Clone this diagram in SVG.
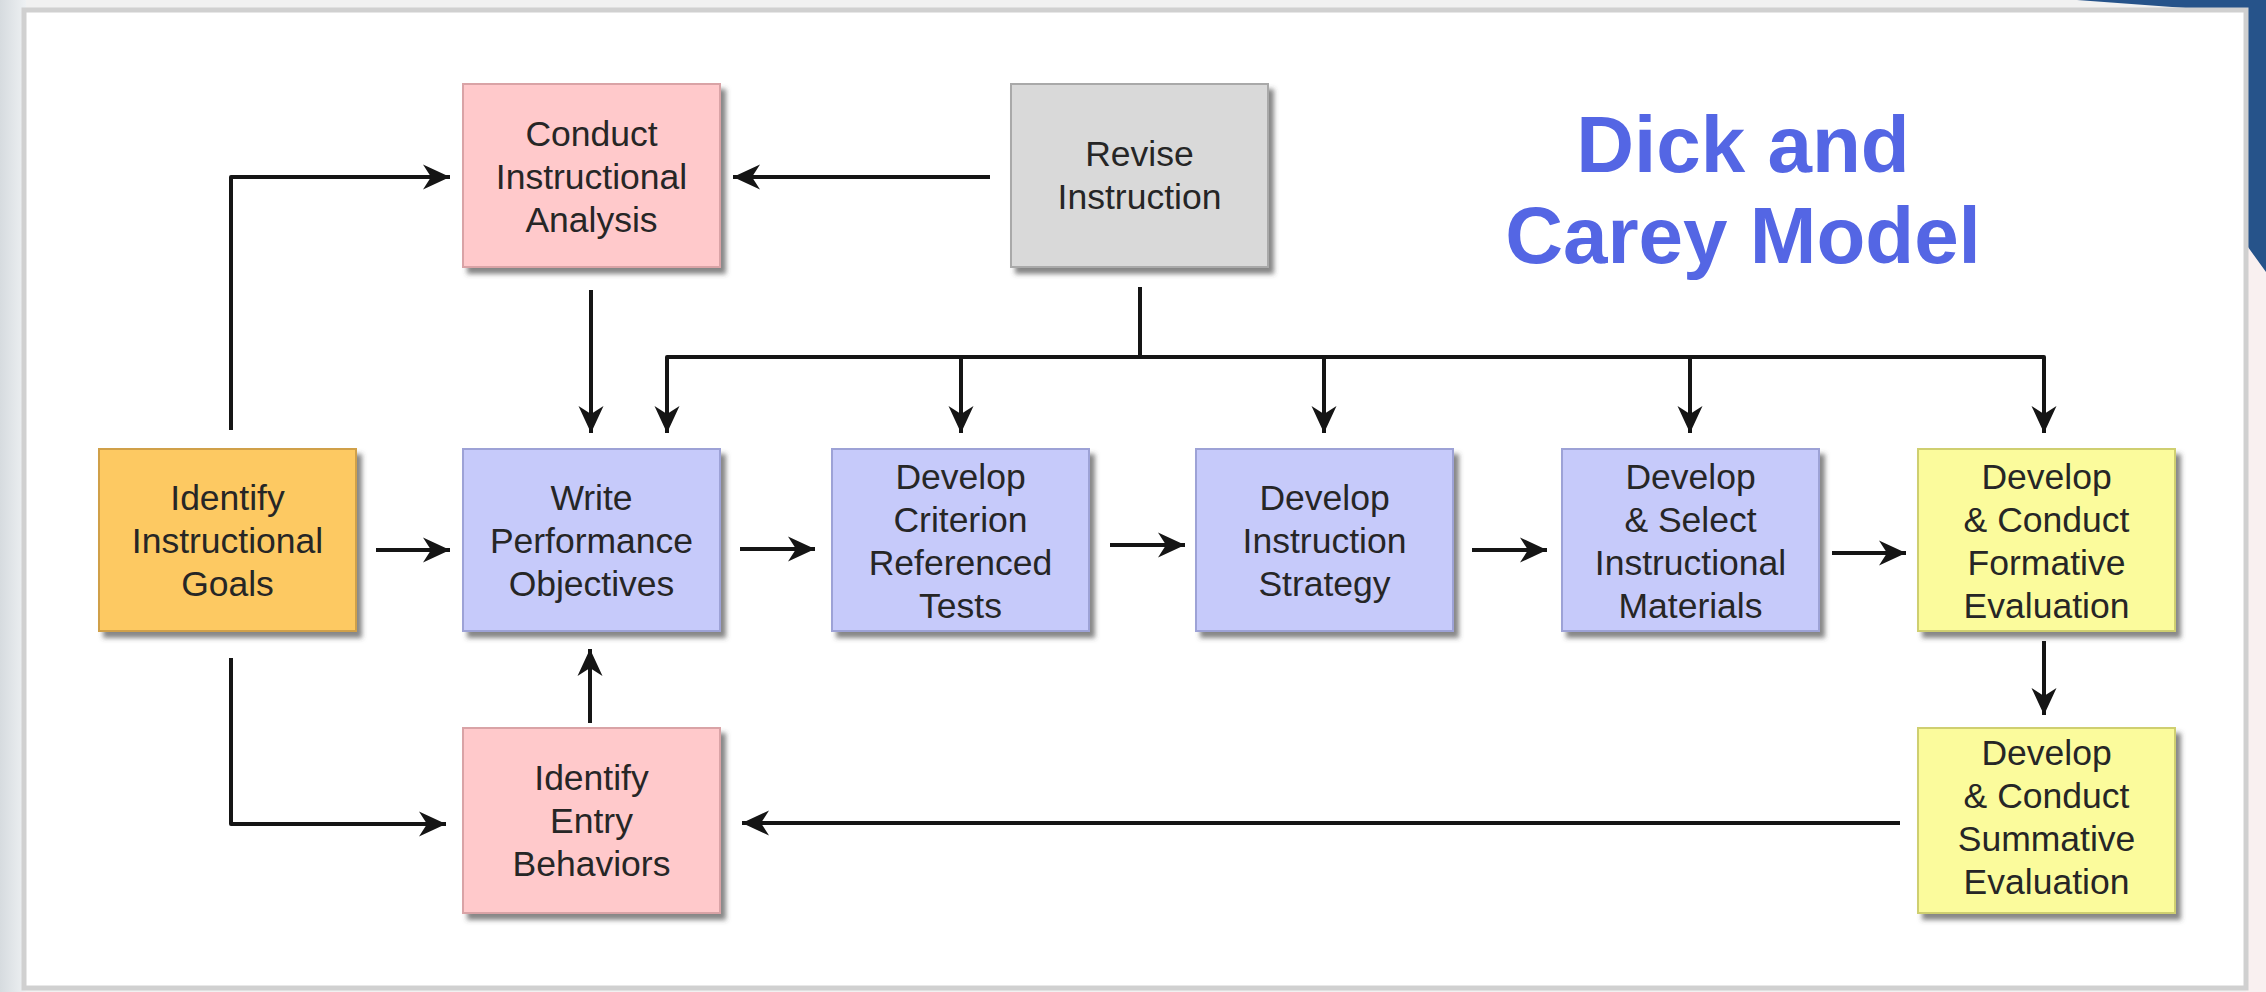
<svg xmlns="http://www.w3.org/2000/svg" width="2266" height="992" viewBox="0 0 2266 992">
<style>
.box{stroke-width:2;filter:url(#sh)}
.pink{fill:#FFC9CB;stroke:#D9A3A6}
.grey{fill:#D9D9D9;stroke:#A9A9A9}
.orange{fill:#FDC962;stroke:#D0A048}
.blue{fill:#C6CAFA;stroke:#9DA2D6}
.yellow{fill:#FBFB9C;stroke:#CFCF70}
.lbl{font-family:"Liberation Sans",Arial,sans-serif;font-size:35.5px;fill:#262626;text-anchor:middle}
.title{font-family:"Liberation Sans",Arial,sans-serif;font-size:80px;font-weight:bold;fill:#5466E4;text-anchor:middle}
.con{fill:none;stroke:#151515;stroke-width:4;stroke-linejoin:round}
.arr{marker-end:url(#ah)}
</style>
<defs>
<filter id="sh" x="-10%" y="-10%" width="125%" height="125%">
<feDropShadow dx="5" dy="6" stdDeviation="2.5" flood-color="#444" flood-opacity="0.65"/>
</filter>
<linearGradient id="lg" x1="0" y1="0" x2="1" y2="0">
<stop offset="0" stop-color="#D6DBDF"/>
<stop offset="1" stop-color="#EEF1F3"/>
</linearGradient>
<marker id="ah" markerUnits="userSpaceOnUse" markerWidth="28" markerHeight="26" viewBox="0 0 28 26" refX="27" refY="13" orient="auto">
<path d="M0,0.5 L27,13 L0,25.5 L8,13 z" fill="#151515"/>
</marker>
</defs>
<rect x="0" y="0" width="2266" height="992" fill="#F1F1F1"/>
<rect x="0" y="0" width="26" height="992" fill="url(#lg)"/>
<rect x="2246" y="0" width="20" height="992" fill="#F9F0F0"/>
<polygon points="2077,0 2266,0 2266,272 2240,236 2240,12" fill="#26538A"/>
<rect x="24" y="10" width="2222" height="978" fill="#FFFFFF" stroke="#D0D0D0" stroke-width="5"/>

<g id="title">
<text class="title" x="1743" y="172">Dick and</text>
<text class="title" x="1743" y="263">Carey Model</text>
</g>

<g id="connectors">
<path class="con arr" d="M231,430 V177 H450"/>
<path class="con arr" d="M231,658 V824 H446"/>
<path class="con arr" d="M376,550 H450"/>
<path class="con arr" d="M990,177 H733"/>
<path class="con arr" d="M591,290 V433"/>
<path class="con" d="M1140,287 V357"/>
<path class="con" d="M667,380 V357 H2044 V380"/>
<path class="con arr" d="M667,357 V433"/>
<path class="con arr" d="M961,357 V433"/>
<path class="con arr" d="M1324,357 V433"/>
<path class="con arr" d="M1690,357 V433"/>
<path class="con arr" d="M2044,357 V433"/>
<path class="con arr" d="M740,549 H815"/>
<path class="con arr" d="M1110,545 H1185"/>
<path class="con arr" d="M1472,550 H1547"/>
<path class="con arr" d="M1832,553 H1906"/>
<path class="con arr" d="M2044,641 V715"/>
<path class="con arr" d="M1900,823 H742"/>
<path class="con arr" d="M590,723 V649"/>
</g>

<g id="conduct-analysis">
<rect class="box pink" x="463" y="84" width="257" height="183"/>
<text class="lbl" x="591.5" y="146">Conduct</text>
<text class="lbl" x="591.5" y="189">Instructional</text>
<text class="lbl" x="591.5" y="232">Analysis</text>
</g>
<g id="revise-instruction">
<rect class="box grey" x="1011" y="84" width="257" height="183"/>
<text class="lbl" x="1139.5" y="166">Revise</text>
<text class="lbl" x="1139.5" y="209">Instruction</text>
</g>
<g id="identify-goals">
<rect class="box orange" x="99" y="449" width="257" height="182"/>
<text class="lbl" x="227.5" y="510">Identify</text>
<text class="lbl" x="227.5" y="553">Instructional</text>
<text class="lbl" x="227.5" y="596">Goals</text>
</g>
<g id="write-objectives">
<rect class="box blue" x="463" y="449" width="257" height="182"/>
<text class="lbl" x="591.5" y="510">Write</text>
<text class="lbl" x="591.5" y="553">Performance</text>
<text class="lbl" x="591.5" y="596">Objectives</text>
</g>
<g id="criterion-tests">
<rect class="box blue" x="832" y="449" width="257" height="182"/>
<text class="lbl" x="960.5" y="489">Develop</text>
<text class="lbl" x="960.5" y="532">Criterion</text>
<text class="lbl" x="960.5" y="575">Referenced</text>
<text class="lbl" x="960.5" y="618">Tests</text>
</g>
<g id="instruction-strategy">
<rect class="box blue" x="1196" y="449" width="257" height="182"/>
<text class="lbl" x="1324.5" y="510">Develop</text>
<text class="lbl" x="1324.5" y="553">Instruction</text>
<text class="lbl" x="1324.5" y="596">Strategy</text>
</g>
<g id="instructional-materials">
<rect class="box blue" x="1562" y="449" width="257" height="182"/>
<text class="lbl" x="1690.5" y="489">Develop</text>
<text class="lbl" x="1690.5" y="532">&amp; Select</text>
<text class="lbl" x="1690.5" y="575">Instructional</text>
<text class="lbl" x="1690.5" y="618">Materials</text>
</g>
<g id="formative-evaluation">
<rect class="box yellow" x="1918" y="449" width="257" height="182"/>
<text class="lbl" x="2046.5" y="489">Develop</text>
<text class="lbl" x="2046.5" y="532">&amp; Conduct</text>
<text class="lbl" x="2046.5" y="575">Formative</text>
<text class="lbl" x="2046.5" y="618">Evaluation</text>
</g>
<g id="summative-evaluation">
<rect class="box yellow" x="1918" y="728" width="257" height="185"/>
<text class="lbl" x="2046.5" y="765">Develop</text>
<text class="lbl" x="2046.5" y="808">&amp; Conduct</text>
<text class="lbl" x="2046.5" y="851">Summative</text>
<text class="lbl" x="2046.5" y="894">Evaluation</text>
</g>
<g id="entry-behaviors">
<rect class="box pink" x="463" y="728" width="257" height="185"/>
<text class="lbl" x="591.5" y="790">Identify</text>
<text class="lbl" x="591.5" y="833">Entry</text>
<text class="lbl" x="591.5" y="876">Behaviors</text>
</g>
</svg>
